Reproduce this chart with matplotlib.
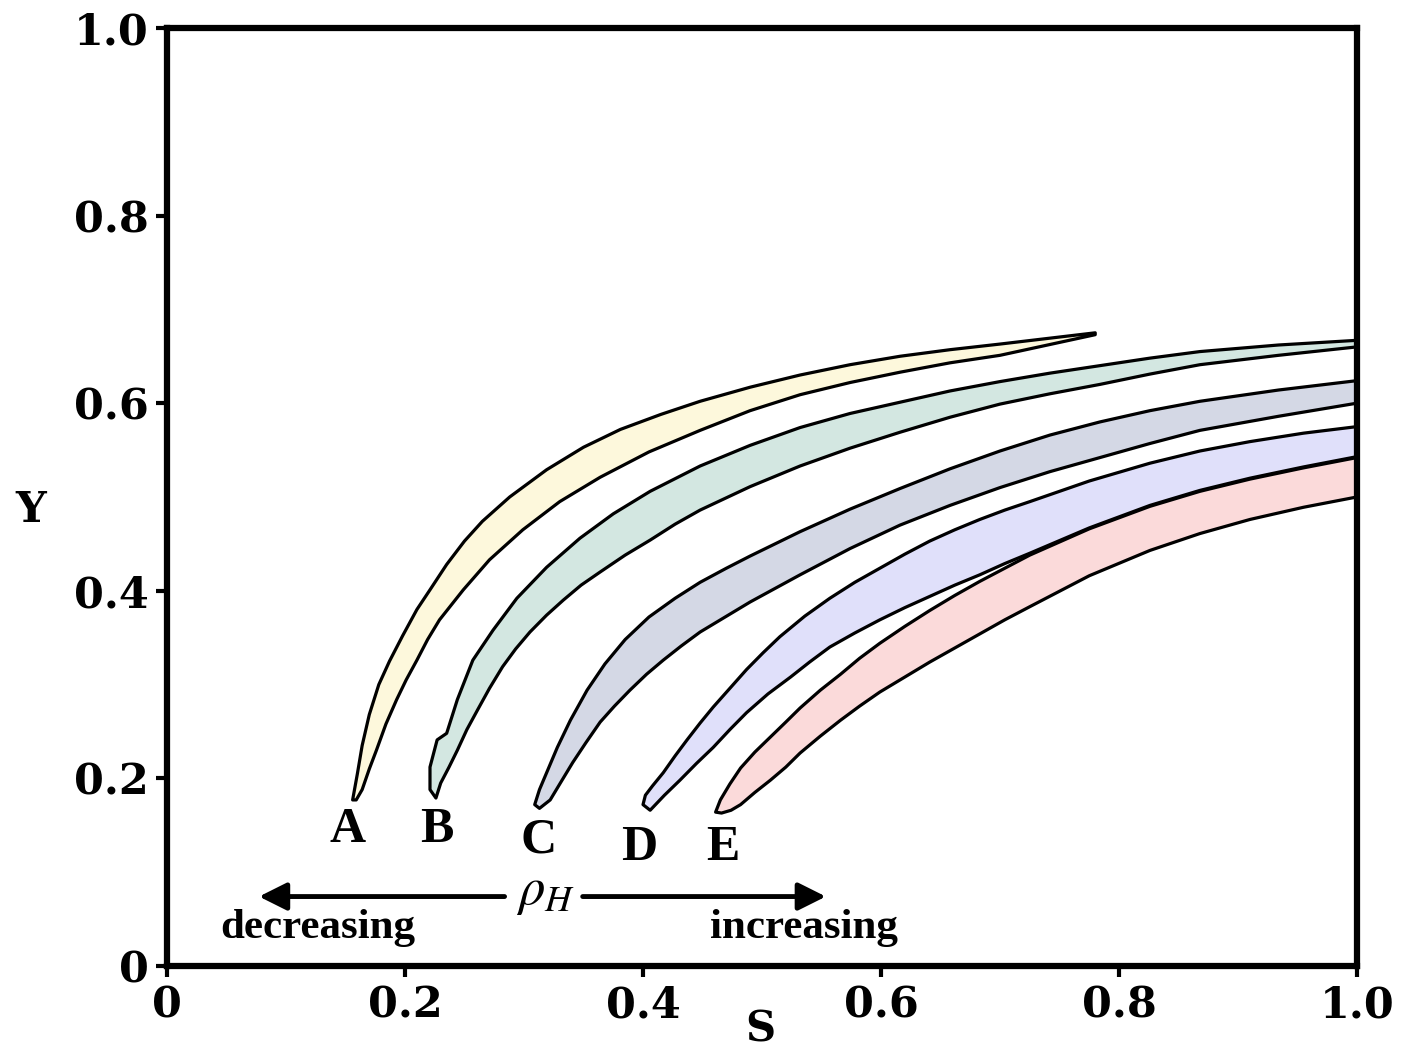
import matplotlib.pyplot as plt
import numpy as np

plt.rcParams['font.family'] = ['Liberation Serif', 'DejaVu Serif']
plt.rcParams['mathtext.fontset'] = 'stix'

# band A (yellow) - upper and lower edge
a_up_s = [0.156, 0.160, 0.164, 0.170, 0.178, 0.187, 0.198, 0.210, 0.221, 0.235, 0.250, 0.265, 0.288,
          0.319, 0.350, 0.381, 0.415, 0.448, 0.490, 0.532, 0.574, 0.616, 0.658, 0.700, 0.740, 0.780]
a_up_y = [0.177, 0.205, 0.235, 0.268, 0.300, 0.325, 0.352, 0.380, 0.401, 0.428, 0.453, 0.474, 0.500,
          0.529, 0.553, 0.572, 0.588, 0.602, 0.617, 0.630, 0.641, 0.650, 0.657, 0.663, 0.669, 0.675]
a_lo_s = [0.159, 0.164, 0.170, 0.176, 0.184, 0.193, 0.201, 0.210, 0.219, 0.229, 0.249, 0.271, 0.299,
          0.330, 0.364, 0.405, 0.448, 0.490, 0.532, 0.574, 0.616, 0.658, 0.700, 0.740, 0.780]
a_lo_y = [0.177, 0.188, 0.210, 0.230, 0.258, 0.284, 0.305, 0.326, 0.348, 0.369, 0.401, 0.433, 0.465,
          0.495, 0.521, 0.548, 0.571, 0.592, 0.609, 0.622, 0.633, 0.643, 0.651, 0.662, 0.673]

# band B (green)
b_up_s = [0.221, 0.221, 0.227, 0.235, 0.244, 0.257, 0.274, 0.294, 0.319, 0.347, 0.375, 0.406, 0.448,
          0.490, 0.532, 0.574, 0.616, 0.658, 0.700, 0.742, 0.784, 0.826, 0.868, 0.934, 1.0]
b_up_y = [0.188, 0.212, 0.241, 0.248, 0.284, 0.326, 0.358, 0.392, 0.425, 0.456, 0.482, 0.506, 0.533,
          0.555, 0.574, 0.589, 0.601, 0.613, 0.623, 0.632, 0.640, 0.648, 0.655, 0.662, 0.667]
b_lo_s = [0.226, 0.230, 0.237, 0.244, 0.252, 0.261, 0.271, 0.282, 0.293, 0.305, 0.319, 0.333, 0.348,
          0.364, 0.385, 0.406, 0.427, 0.448, 0.490, 0.532, 0.574, 0.616, 0.658, 0.700, 0.742, 0.784,
          0.826, 0.868, 0.934, 1.0]
b_lo_y = [0.179, 0.195, 0.212, 0.230, 0.252, 0.273, 0.296, 0.319, 0.338, 0.356, 0.374, 0.390, 0.406,
          0.420, 0.438, 0.454, 0.471, 0.486, 0.511, 0.533, 0.552, 0.569, 0.585, 0.599, 0.610, 0.620,
          0.631, 0.641, 0.651, 0.660]

# band C (grey-blue)
c_up_s = [0.309, 0.313, 0.319, 0.328, 0.339, 0.353, 0.368, 0.385, 0.405, 0.427, 0.448, 0.470, 0.490,
          0.532, 0.574, 0.616, 0.658, 0.700, 0.742, 0.784, 0.826, 0.868, 0.934, 1.0]
c_up_y = [0.172, 0.188, 0.206, 0.233, 0.262, 0.294, 0.322, 0.348, 0.372, 0.392, 0.409, 0.424, 0.437,
          0.463, 0.487, 0.509, 0.530, 0.549, 0.566, 0.580, 0.592, 0.602, 0.614, 0.624]
c_lo_s = [0.313, 0.322, 0.331, 0.341, 0.352, 0.364, 0.376, 0.389, 0.403, 0.417, 0.432, 0.448, 0.490,
          0.532, 0.574, 0.616, 0.658, 0.700, 0.742, 0.784, 0.826, 0.868, 0.934, 1.0]
c_lo_y = [0.168, 0.177, 0.196, 0.217, 0.238, 0.260, 0.277, 0.294, 0.311, 0.326, 0.341, 0.356, 0.388,
          0.417, 0.445, 0.470, 0.491, 0.510, 0.527, 0.542, 0.557, 0.571, 0.586, 0.600]

# band D (lavender)
d_up_s = [0.400, 0.402, 0.408, 0.417, 0.427, 0.437, 0.448, 0.459, 0.473, 0.487, 0.501, 0.515, 0.536,
          0.557, 0.578, 0.599, 0.620, 0.641, 0.662, 0.683, 0.704, 0.725, 0.775, 0.826, 0.868, 0.910,
          0.955, 1.0]
d_up_y = [0.172, 0.182, 0.192, 0.206, 0.224, 0.241, 0.259, 0.276, 0.296, 0.316, 0.334, 0.351, 0.373,
          0.392, 0.409, 0.424, 0.439, 0.453, 0.465, 0.476, 0.486, 0.495, 0.517, 0.536, 0.549, 0.559,
          0.568, 0.575]
d_lo_s = [0.406, 0.418, 0.431, 0.445, 0.459, 0.473, 0.487, 0.505, 0.524, 0.540, 0.557, 0.578, 0.599,
          0.620, 0.641, 0.662, 0.683, 0.704, 0.725, 0.775, 0.826, 0.868, 0.910, 0.955, 1.0]
d_lo_y = [0.166, 0.182, 0.198, 0.216, 0.233, 0.252, 0.270, 0.290, 0.308, 0.324, 0.340, 0.355, 0.369,
          0.382, 0.394, 0.406, 0.417, 0.429, 0.440, 0.467, 0.491, 0.507, 0.520, 0.532, 0.543]

# band E (pink)
e_up_s = [0.461, 0.465, 0.473, 0.482, 0.494, 0.507, 0.520, 0.532, 0.549, 0.566, 0.582, 0.599, 0.620,
          0.641, 0.662, 0.683, 0.704, 0.725, 0.775, 0.826, 0.868, 0.910, 0.955, 1.0]
e_up_y = [0.164, 0.177, 0.194, 0.211, 0.228, 0.244, 0.260, 0.275, 0.294, 0.311, 0.328, 0.344, 0.362,
          0.379, 0.395, 0.410, 0.424, 0.438, 0.466, 0.490, 0.506, 0.519, 0.531, 0.542]
e_lo_s = [0.466, 0.474, 0.482, 0.494, 0.507, 0.520, 0.532, 0.549, 0.566, 0.582, 0.599, 0.620, 0.641,
          0.662, 0.683, 0.704, 0.725, 0.775, 0.826, 0.868, 0.910, 0.955, 1.0]
e_lo_y = [0.163, 0.166, 0.172, 0.185, 0.198, 0.212, 0.227, 0.245, 0.262, 0.277, 0.292, 0.308, 0.324,
          0.339, 0.354, 0.369, 0.383, 0.416, 0.443, 0.461, 0.476, 0.489, 0.500]

band_names = ['A', 'B', 'C', 'D', 'E']
band_colors = ['#fdf8dc', '#d3e7e1', '#d4d8e5', '#e0e0fa', '#fbdada']
ticks = [0, 0.2, 0.4, 0.6, 0.8, 1.0]
tick_labels = ['0', '0.2', '0.4', '0.6', '0.8', '1.0']

bands = [(a_up_s, a_up_y, a_lo_s, a_lo_y),
         (b_up_s, b_up_y, b_lo_s, b_lo_y),
         (c_up_s, c_up_y, c_lo_s, c_lo_y),
         (d_up_s, d_up_y, d_lo_s, d_lo_y),
         (e_up_s, e_up_y, e_lo_s, e_lo_y)]
label_pos = [(0.152, 0.145), (0.227, 0.145), (0.312, 0.134), (0.397, 0.126), (0.467, 0.126)]

fig = plt.figure(figsize=(14.08, 10.55), dpi=100)
ax = fig.add_axes([0.1186, 0.0844, 0.8452, 0.8891])

for (us, uy, ls, ly), col in zip(bands, band_colors):
    xs = np.concatenate([us, ls[::-1]])
    ys = np.concatenate([uy, ly[::-1]])
    ax.fill(xs, ys, facecolor=col, edgecolor='black', lw=2.3, joinstyle='round')

for name, (x, y) in zip(band_names, label_pos):
    ax.text(x, y, name, fontsize=36, fontweight='bold', ha='center', va='center')

# rho_H with the two arrows
ax.text(0.318, 0.078, r'$\rho_H$', fontsize=38, ha='center', va='center')
ax.annotate('', xy=(0.075, 0.074), xytext=(0.286, 0.074),
            arrowprops=dict(arrowstyle='-|>', lw=3.5, color='black', mutation_scale=42))
ax.annotate('', xy=(0.556, 0.074), xytext=(0.347, 0.074),
            arrowprops=dict(arrowstyle='-|>', lw=3.5, color='black', mutation_scale=42))
ax.text(0.127, 0.040, 'decreasing', fontsize=31, fontweight='bold', ha='center', va='center')
ax.text(0.535, 0.040, 'increasing', fontsize=31, fontweight='bold', ha='center', va='center')

ax.set_xlim(0, 1.0)
ax.set_ylim(0, 1.0)
ax.set_xticks(ticks)
ax.set_xticklabels(tick_labels)
ax.set_yticks(ticks)
ax.set_yticklabels(tick_labels)
ax.tick_params(direction='out', length=8, width=3, labelsize=31, pad=5)
for lab in ax.get_xticklabels() + ax.get_yticklabels():
    lab.set_fontweight('bold')
    lab.set_family('DejaVu Serif')
for sp in ax.spines.values():
    sp.set_linewidth(4.5)

fig.text(0.022, 0.517, 'Y', fontsize=31, fontweight='bold', family='DejaVu Serif', ha='center', va='center')
fig.text(0.540, 0.004, 'S', fontsize=30, fontweight='bold', family='DejaVu Serif', ha='center', va='bottom')

fig.savefig('out.png', dpi=100)
